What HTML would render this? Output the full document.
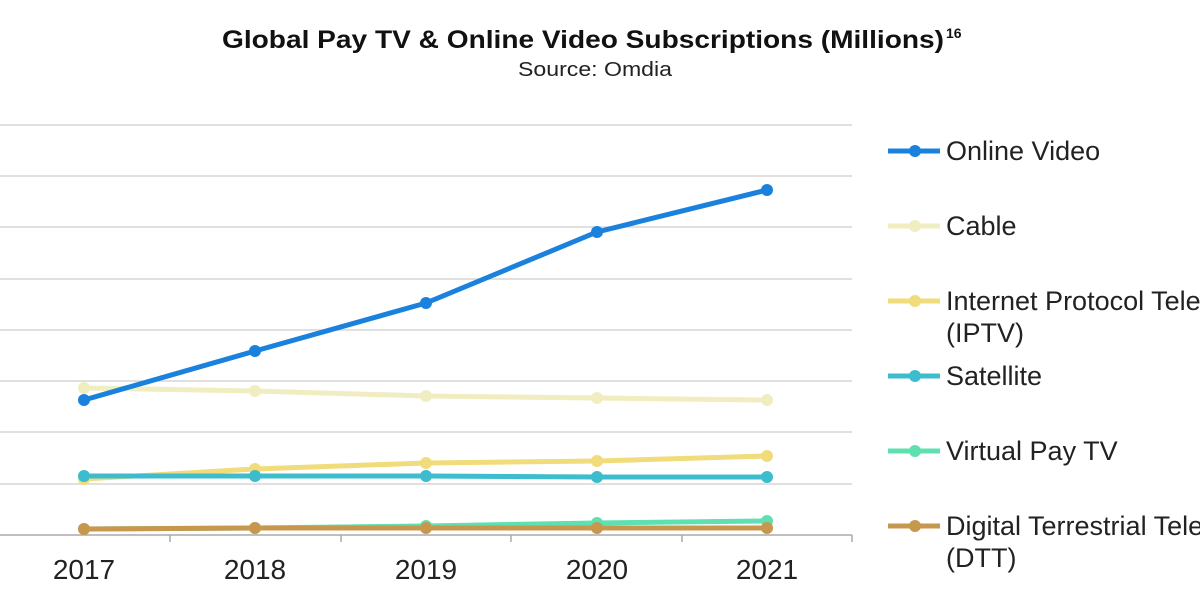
<!DOCTYPE html>
<html><head><meta charset="utf-8"><style>
body{margin:0;background:#fff;}
svg text{font-family:"Liberation Sans",Arial,sans-serif;}
</style></head><body>
<svg width="1200" height="600" viewBox="0 0 1200 600" xmlns="http://www.w3.org/2000/svg">
<rect width="1200" height="600" fill="#fff"/>
<text x="222" y="48" font-size="25" font-weight="bold" fill="#111" textLength="722" lengthAdjust="spacingAndGlyphs">Global Pay TV &amp; Online Video Subscriptions (Millions)</text>
<text x="946" y="38" font-size="14" font-weight="bold" fill="#111">16</text>
<text x="518" y="76" font-size="20" fill="#222" textLength="154" lengthAdjust="spacingAndGlyphs">Source: Omdia</text>
<g stroke="#d6d6d6" stroke-width="1.5">
<line x1="0" y1="125" x2="852" y2="125"/><line x1="0" y1="176" x2="852" y2="176"/>
<line x1="0" y1="227" x2="852" y2="227"/><line x1="0" y1="279" x2="852" y2="279"/>
<line x1="0" y1="330" x2="852" y2="330"/><line x1="0" y1="381" x2="852" y2="381"/>
<line x1="0" y1="432" x2="852" y2="432"/><line x1="0" y1="484" x2="852" y2="484"/>
</g>
<line x1="0" y1="535" x2="852" y2="535" stroke="#aaa" stroke-width="1.5"/>
<g stroke="#aaa" stroke-width="1.5">
<line x1="170" y1="535" x2="170" y2="542"/><line x1="341" y1="535" x2="341" y2="542"/>
<line x1="511" y1="535" x2="511" y2="542"/><line x1="682" y1="535" x2="682" y2="542"/>
<line x1="852" y1="535" x2="852" y2="542"/>
</g>
<g font-size="28" fill="#222" text-anchor="middle">
<text x="84" y="579">2017</text><text x="255" y="579">2018</text><text x="426" y="579">2019</text><text x="597" y="579">2020</text><text x="767" y="579">2021</text>
</g>
<g fill="none" stroke-width="5" stroke-linejoin="round">
<polyline stroke="#f0edc0" points="84,388 255,391 426,396 597,398 767,400"/>
<polyline stroke="#f0dc7a" points="84,479 255,469 426,463 597,461 767,456"/>
<polyline stroke="#3cbccc" points="84,476 255,476 426,476 597,477 767,477"/>
<polyline stroke="#5ee0b0" points="84,529 255,528 426,526 597,523 767,521"/>
<polyline stroke="#c8974e" points="84,529 255,528 426,528 597,528 767,528"/>
<polyline stroke="#1a82dc" points="84,400 255,351 426,303 597,232 767,190"/>
</g>
<g fill="#f0edc0"><circle cx="84" cy="388" r="6"/><circle cx="255" cy="391" r="6"/><circle cx="426" cy="396" r="6"/><circle cx="597" cy="398" r="6"/><circle cx="767" cy="400" r="6"/></g>
<g fill="#f0dc7a"><circle cx="84" cy="479" r="6"/><circle cx="255" cy="469" r="6"/><circle cx="426" cy="463" r="6"/><circle cx="597" cy="461" r="6"/><circle cx="767" cy="456" r="6"/></g>
<g fill="#3cbccc"><circle cx="84" cy="476" r="6"/><circle cx="255" cy="476" r="6"/><circle cx="426" cy="476" r="6"/><circle cx="597" cy="477" r="6"/><circle cx="767" cy="477" r="6"/></g>
<g fill="#5ee0b0"><circle cx="84" cy="529" r="6"/><circle cx="255" cy="528" r="6"/><circle cx="426" cy="526" r="6"/><circle cx="597" cy="523" r="6"/><circle cx="767" cy="521" r="6"/></g>
<g fill="#c8974e"><circle cx="84" cy="529" r="6"/><circle cx="255" cy="528" r="6"/><circle cx="426" cy="528" r="6"/><circle cx="597" cy="528" r="6"/><circle cx="767" cy="528" r="6"/></g>
<g fill="#1a82dc"><circle cx="84" cy="400" r="6"/><circle cx="255" cy="351" r="6"/><circle cx="426" cy="303" r="6"/><circle cx="597" cy="232" r="6"/><circle cx="767" cy="190" r="6"/></g>
<g stroke-width="5">
<line x1="888" y1="151" x2="940" y2="151" stroke="#1a82dc"/><circle cx="915" cy="151" r="6" fill="#1a82dc"/>
<line x1="888" y1="226" x2="940" y2="226" stroke="#f0edc0"/><circle cx="915" cy="226" r="6" fill="#f0edc0"/>
<line x1="888" y1="301" x2="940" y2="301" stroke="#f0dc7a"/><circle cx="915" cy="301" r="6" fill="#f0dc7a"/>
<line x1="888" y1="376" x2="940" y2="376" stroke="#3cbccc"/><circle cx="915" cy="376" r="6" fill="#3cbccc"/>
<line x1="888" y1="451" x2="940" y2="451" stroke="#5ee0b0"/><circle cx="915" cy="451" r="6" fill="#5ee0b0"/>
<line x1="888" y1="526" x2="940" y2="526" stroke="#c8974e"/><circle cx="915" cy="526" r="6" fill="#c8974e"/>
</g>
<g font-size="27" fill="#222">
<text x="946" y="160">Online Video</text>
<text x="946" y="235">Cable</text>
<text x="946" y="310">Internet Protocol Television</text>
<text x="946" y="342">(IPTV)</text>
<text x="946" y="385">Satellite</text>
<text x="946" y="460">Virtual Pay TV</text>
<text x="946" y="535">Digital Terrestrial Television</text>
<text x="946" y="567">(DTT)</text>
</g>
</svg>
</body></html>
